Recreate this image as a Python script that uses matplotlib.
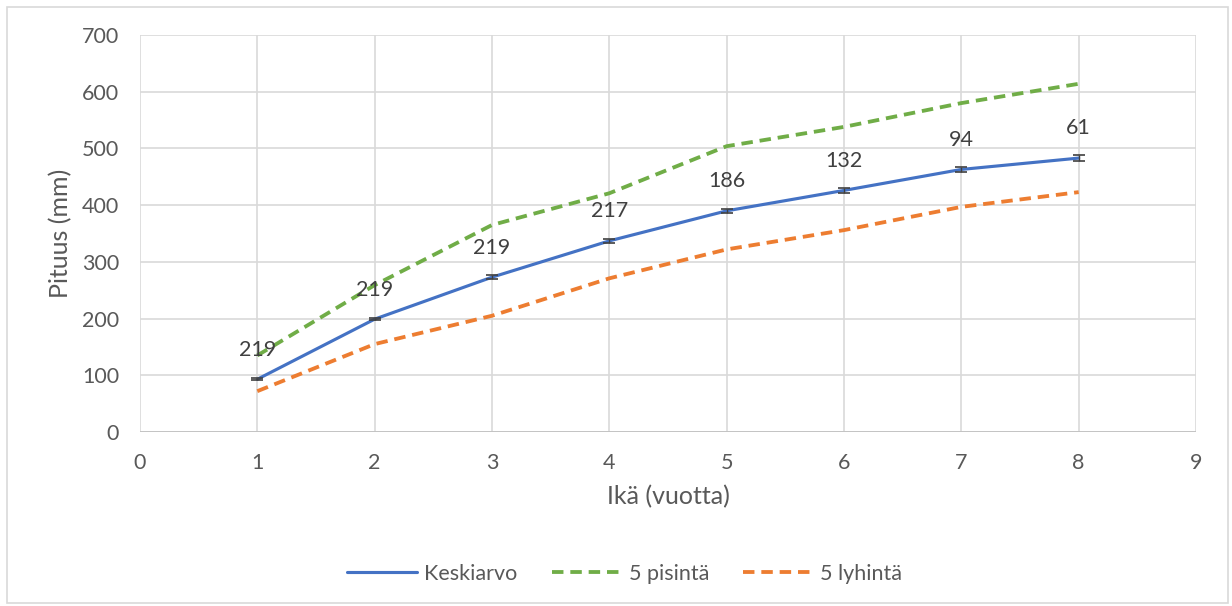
import matplotlib
matplotlib.use("Agg")
import matplotlib.pyplot as plt
from matplotlib.patches import Rectangle

plt.rcParams['font.family'] = ['Lato', 'DejaVu Sans']

ages = [1, 2, 3, 4, 5, 6, 7, 8]
mean_len = [93, 199, 273, 337, 390, 426, 463, 483]
mean_err = [2, 2, 3, 3, 3, 4, 4, 6]
longest5 = [135, 259, 365, 421, 504, 538, 580, 614]
shortest5 = [72, 155, 205, 271, 322, 356, 397, 423]
counts = ["219", "219", "219", "217", "186", "132", "94", "61"]

xticks = list(range(0, 10))
yticks = list(range(0, 701, 100))

fig = plt.figure(figsize=(12.32, 6.06), dpi=100)
ax = fig.add_axes([0.1136, 0.2871, 0.8572, 0.6551])

blue = '#4472c4'
green = '#70ad47'
orange = '#ed7d31'
text_col = '#595959'
grid_col = '#d9d9d9'

ax.plot(ages, mean_len, color=blue, lw=2.25, label='Keskiarvo', zorder=4,
        solid_capstyle='round')
ax.errorbar(ages, mean_len, yerr=mean_err, fmt='none', ecolor='#404040',
            elinewidth=1, capsize=4.5, capthick=1.2, zorder=5)
ax.plot(ages, longest5, color=green, lw=2.75, ls=(0, (3, 1.8)), label='5 pisintä', zorder=3)
ax.plot(ages, shortest5, color=orange, lw=2.75, ls=(0, (3, 1.8)), label='5 lyhintä', zorder=3)

for x, y, c in zip(ages, mean_len, counts):
    ax.annotate(c, (x, y), xytext=(0, 17), textcoords='offset points',
                ha='center', va='baseline', fontsize=15.5, color='#404040')

ax.set_xlim(0, 9)
ax.set_ylim(0, 700)
ax.set_xticks(xticks)
ax.set_yticks(yticks)
ax.grid(True, color=grid_col, lw=1.2)
ax.set_axisbelow(True)
for s in ax.spines.values():
    s.set_visible(False)
ax.axhline(0, color='#bfbfbf', lw=1.2, zorder=1)
ax.tick_params(length=0, labelsize=15.5, labelcolor=text_col, pad=15)
ax.set_xlabel('Ikä (vuotta)', fontsize=18, color=text_col, labelpad=9)
ax.set_ylabel('Pituus (mm)', fontsize=18, color=text_col, labelpad=7)

leg = fig.legend(loc='center', bbox_to_anchor=(0.507, 0.053), ncol=3, frameon=False,
                 fontsize=15.5, handlelength=3.25, columnspacing=1.6, handletextpad=0.33)
for t in leg.get_texts():
    t.set_color(text_col)

fig.patches.append(Rectangle((7 / 1232, 3 / 606), 1221 / 1232, 596 / 606,
                             transform=fig.transFigure, fill=False,
                             edgecolor='#d9d9d9', lw=1.2))

fig.savefig('out.png', dpi=100)
